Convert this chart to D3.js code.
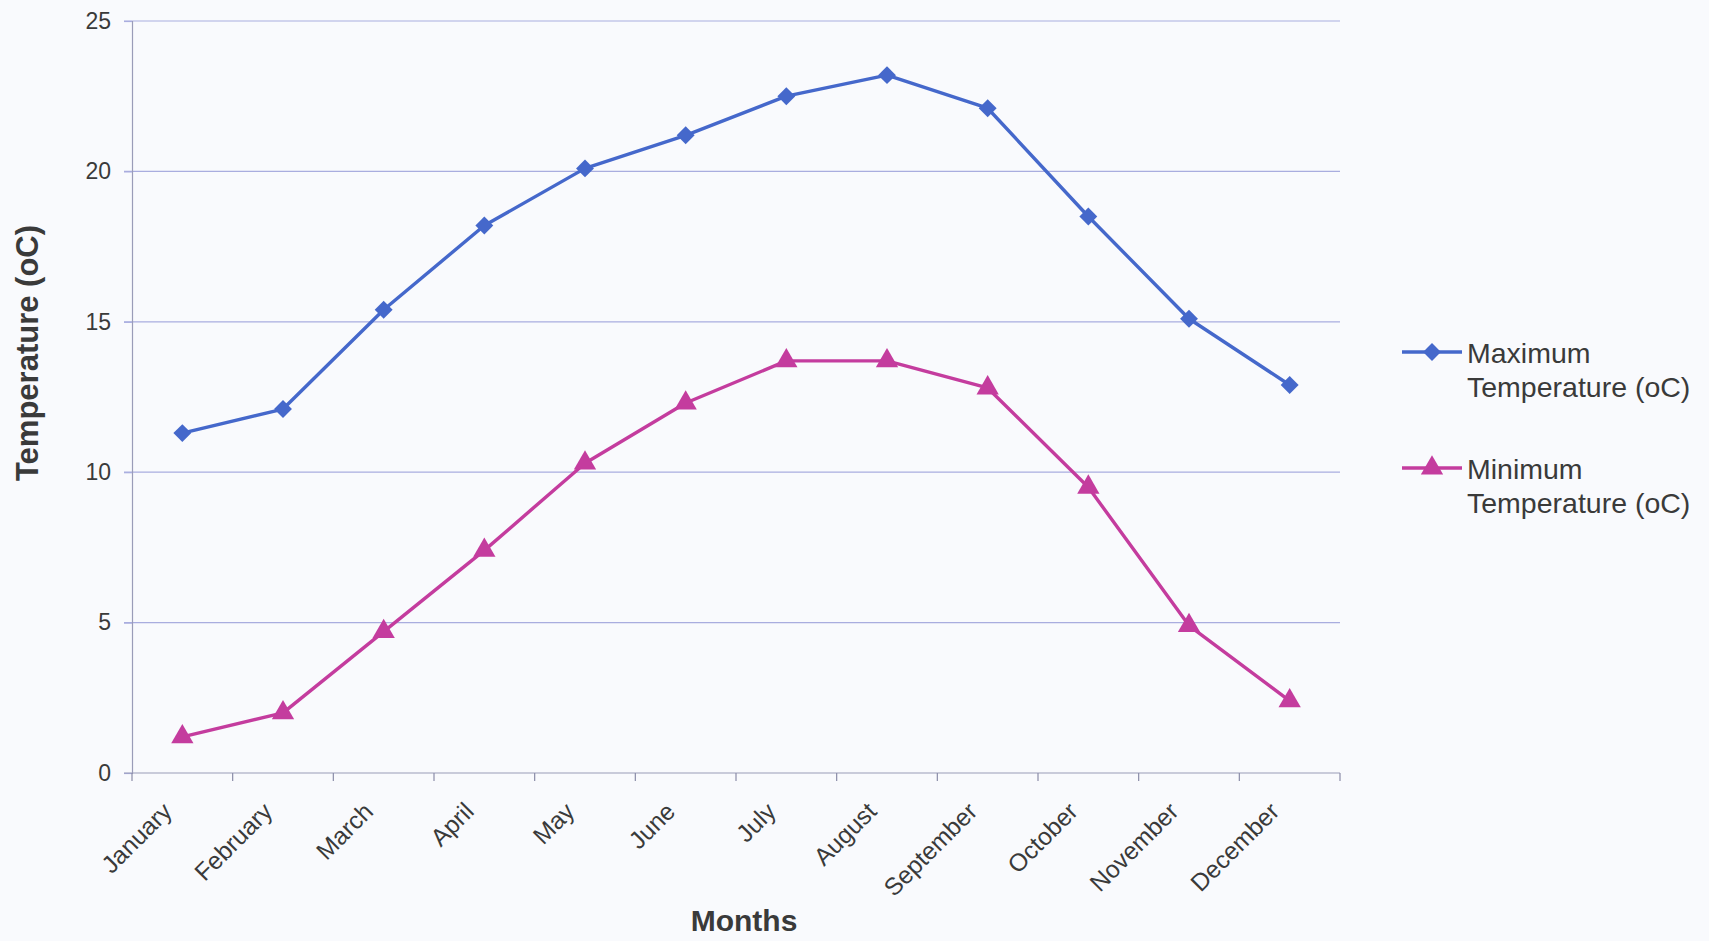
<!DOCTYPE html>
<html>
<head>
<meta charset="utf-8">
<script src="https://cdn.jsdelivr.net/npm/d3@7"></script>
<style>
  html, body { margin: 0; padding: 0; background: #f9fafd; }
  svg { display: block; font-family: "Liberation Sans", Arial, sans-serif; }
</style>
</head>
<body>
<svg id="chart" width="1709" height="941"></svg>
<script>
// Monthly temperature data
const months = ["January", "February", "March", "April", "May", "June",
                "July", "August", "September", "October", "November", "December"];
const maxTemp = [11.3, 12.1, 15.4, 18.2, 20.1, 21.2, 22.5, 23.2, 22.1, 18.5, 15.1, 12.9];
const minTemp = [1.2, 2.0, 4.7, 7.4, 10.3, 12.3, 13.7, 13.7, 12.8, 9.5, 4.9, 2.4];
const yTicks = [0, 5, 10, 15, 20, 25];
const seriesNames = ["Maximum Temperature (oC)", "Minimum Temperature (oC)"];

const svg = d3.select("#chart");
const W = 1709, H = 941;
const plot = { left: 132, right: 1340, top: 21, bottom: 773 };

svg.append("rect").attr("width", W).attr("height", H).attr("fill", "#f9fafd");

const x = d3.scaleBand().domain(months).range([plot.left, plot.right]).paddingInner(0).paddingOuter(0);
const y = d3.scaleLinear().domain([0, 25]).range([plot.bottom, plot.top]);
const cx = m => x(m) + x.bandwidth() / 2;

// horizontal gridlines
svg.append("g").selectAll("line").data(yTicks.filter(t => t > 0)).join("line")
  .attr("x1", plot.left - 8).attr("x2", plot.right)
  .attr("y1", d => y(d)).attr("y2", d => y(d))
  .attr("stroke", "#a9addf").attr("stroke-width", 1.2);

// y axis
const yAxis = d3.axisLeft(y).tickValues(yTicks).tickSize(8).tickPadding(13);
const gy = svg.append("g").attr("transform", `translate(${plot.left},0)`).call(yAxis);
gy.select(".domain").attr("stroke", "#9a9cb8").attr("stroke-width", 1.2);
gy.selectAll(".tick line").attr("stroke", "#a9addf").attr("stroke-width", 1.2);
gy.selectAll(".tick text").attr("font-size", 23).attr("fill", "#3a3a3a")
  .attr("font-family", "Liberation Sans, Arial, sans-serif");

// x axis with tick marks at category boundaries
const boundaries = months.map(m => x(m)).concat([plot.right]);
const gx = svg.append("g");
gx.append("line").attr("x1", plot.left - 8).attr("x2", plot.right)
  .attr("y1", plot.bottom).attr("y2", plot.bottom)
  .attr("stroke", "#9a9cb8").attr("stroke-width", 1.2);
gx.selectAll("line.tk").data(boundaries).join("line").attr("class", "tk")
  .attr("x1", d => d).attr("x2", d => d)
  .attr("y1", plot.bottom).attr("y2", plot.bottom + 8)
  .attr("stroke", "#8a8ca8").attr("stroke-width", 1.2);
gx.selectAll("text").data(months).join("text")
  .attr("transform", d => `translate(${cx(d) - 9},${plot.bottom + 40}) rotate(-45)`)
  .attr("text-anchor", "end")
  .attr("font-size", 24.5).attr("fill", "#3a3a3a")
  .text(d => d);

// lines
const line = d3.line().x((d, i) => cx(months[i])).y(d => y(d));
const colors = ["#4568cb", "#c43c9e"];
[maxTemp, minTemp].forEach((vals, k) => {
  svg.append("path").datum(vals).attr("d", line)
    .attr("fill", "none").attr("stroke", colors[k]).attr("stroke-width", 3.4)
    .attr("stroke-linejoin", "round");
});

// markers
const diamond = d3.symbol().type(d3.symbolSquare).size(160);
const triangle = d3.symbol().type(d3.symbolTriangle).size(215);
svg.append("g").selectAll("path").data(maxTemp).join("path")
  .attr("d", diamond())
  .attr("transform", (d, i) => `translate(${cx(months[i])},${y(d)}) rotate(45)`)
  .attr("fill", colors[0]);
svg.append("g").selectAll("path").data(minTemp).join("path")
  .attr("d", triangle())
  .attr("transform", (d, i) => `translate(${cx(months[i])},${y(d)})`)
  .attr("fill", colors[1]);

// axis titles
svg.append("text")
  .attr("transform", `translate(38,353) rotate(-90)`)
  .attr("text-anchor", "middle")
  .attr("font-size", 31).attr("font-weight", "bold").attr("fill", "#3a3a3a")
  .text("Temperature (oC)");
svg.append("text")
  .attr("x", 744).attr("y", 931)
  .attr("text-anchor", "middle")
  .attr("font-size", 30).attr("font-weight", "bold").attr("fill", "#3a3a3a")
  .text("Months");

// legend
const legendY = [352, 468];
const legend = svg.append("g");
seriesNames.forEach((name, k) => {
  const ly = legendY[k];
  legend.append("line").attr("x1", 1402).attr("x2", 1462)
    .attr("y1", ly).attr("y2", ly)
    .attr("stroke", colors[k]).attr("stroke-width", 3.4);
  legend.append("path")
    .attr("d", k === 0 ? diamond() : triangle())
    .attr("transform", `translate(1432,${ly})` + (k === 0 ? " rotate(45)" : ""))
    .attr("fill", colors[k]);
  const words = name.split(" ");
  const t = legend.append("text").attr("x", 1467).attr("y", ly + 11)
    .attr("font-size", 28.5).attr("fill", "#3a3a3a");
  t.append("tspan").attr("x", 1467).attr("dy", 0).text(words[0]);
  t.append("tspan").attr("x", 1467).attr("dy", 33.5).text(words.slice(1).join(" "));
});
</script>
</body>
</html>
